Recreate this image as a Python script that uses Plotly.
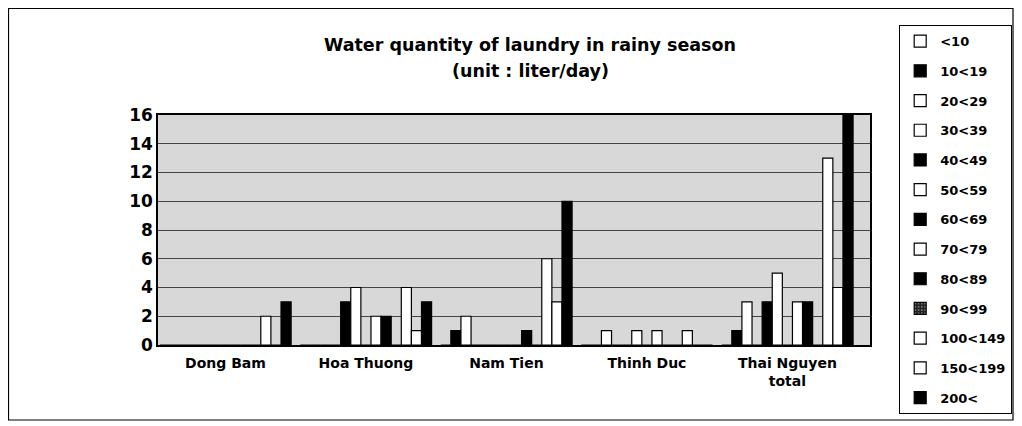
import plotly.graph_objects as go

groups = ["Dong Bam", "Hoa Thuong", "Nam Tien", "Thinh Duc", "Thai Nguyen<br>total"]
series = ["<10", "10<19", "20<29", "30<39", "40<49", "50<59", "60<69",
          "70<79", "80<89", "90<99", "100<149", "150<199", "200<"]
# values per group, in series order
dong_bam    = [0, 0, 0, 0, 0, 0, 0, 0, 0, 0, 2, 0, 3]
hoa_thuong  = [0, 0, 0, 0, 3, 4, 0, 2, 2, 0, 4, 1, 3]
nam_tien    = [0, 1, 2, 0, 0, 0, 0, 0, 1, 0, 6, 3, 10]
thinh_duc   = [0, 0, 1, 0, 0, 1, 0, 1, 0, 0, 1, 0, 0]
thai_nguyen = [0, 1, 3, 0, 3, 5, 0, 3, 3, 0, 13, 4, 16]
fills = ["white", "black", "white", "white", "black", "white", "black",
         "white", "black", "#222222", "white", "white", "black"]
y_ticks = [0, 2, 4, 6, 8, 10, 12, 14, 16]

table = [dong_bam, hoa_thuong, nam_tien, thinh_duc, thai_nguyen]
FONT = "DejaVu Sans"

# page offset (body margin) is 8px; figure pixel = reference pixel - 8
W, H = 1014, 418
L, R, T, B = 150, 152, 107, 81
plot_w = W - L - R
plot_h = H - T - B
OFF = 8
def px(pix):
    return (pix - OFF - L) / plot_w
def py(pix):
    return (H - B - (pix - OFF)) / plot_h

fig = go.Figure()
for i, name in enumerate(series):
    marker = dict(color=fills[i], line=dict(color="black", width=1.2))
    if name == "90<99":
        marker["pattern"] = dict(shape=".", fgcolor="white", bgcolor="#222222", size=4, solidity=0.2)
    fig.add_trace(go.Bar(
        name=name, x=groups, y=[row[i] for row in table],
        marker=marker, legendgroup=name,
    ))

fig.update_layout(
    width=W, height=H,
    margin=dict(l=L, r=R, t=T, b=B, autoexpand=False),
    paper_bgcolor="white", plot_bgcolor="#d8d8d8",
    barmode="group", bargap=0.065, bargroupgap=0.0,
    font=dict(family=FONT, color="black", size=13),
    showlegend=True,
    legend=dict(
        x=px(899), xanchor="left", y=py(25), yanchor="top",
        bgcolor="white", bordercolor="black", borderwidth=1.2,
        font=dict(family=FONT, size=13, color="black", weight="bold"),
        tracegroupgap=9.8, itemwidth=30, maxheight=400,
    ),
    xaxis=dict(
        range=[-0.48, 4.588],
        showline=True, linecolor="black", linewidth=1.5, mirror=True,
        tickfont=dict(family=FONT, size=14, color="black", weight="bold"),
        ticks="", showgrid=False, ticklabelstandoff=4,
    ),
    yaxis=dict(
        range=[0, 16], tickvals=y_ticks, ticktext=[str(v) for v in y_ticks],
        showline=True, linecolor="black", linewidth=1.5, mirror=True,
        gridcolor="#444444", gridwidth=1,
        tickfont=dict(family=FONT, size=17, color="black", weight="bold"),
        ticks="", zeroline=False,
    ),
    annotations=[
        dict(text="Water quantity of laundry in rainy season", x=px(530), xref="paper",
             y=py(45), yref="paper", yanchor="middle", showarrow=False,
             font=dict(family=FONT, size=17.5, weight="bold")),
        dict(text="(unit : liter/day)", x=px(530), xref="paper",
             y=py(71), yref="paper", yanchor="middle", showarrow=False,
             font=dict(family=FONT, size=17.5, weight="bold")),
    ],
    shapes=[
        dict(type="rect", xref="paper", yref="paper",
             x0=px(8.5), x1=px(1013), y0=py(420), y1=py(8.5),
             line=dict(color="black", width=1.2)),
    ],
)

fig.write_html("out.html")
